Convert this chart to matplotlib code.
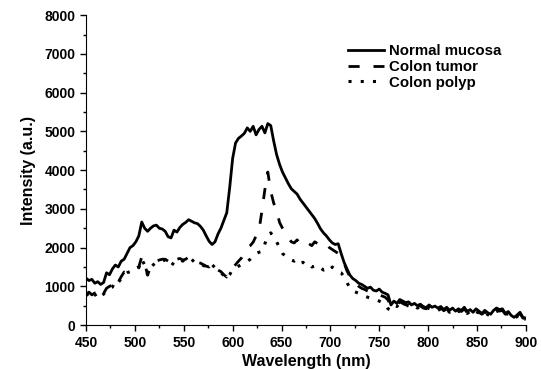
import numpy as np
import matplotlib
matplotlib.use('Agg')
import matplotlib.pyplot as plt

plt.rcParams['font.family'] = ['Liberation Sans', 'DejaVu Sans']
plt.rcParams['font.weight'] = 'bold'

# wavelength grid, 3 nm steps
wavelength = np.arange(450, 901, 3)

normal_mucosa = [
    1210, 1150, 1180, 1080, 1120, 1050, 1100, 1350, 1300, 1450,   # 450-477
    1550, 1500, 1650, 1700, 1850, 2000, 2050, 2150, 2300, 2660,   # 480-507
    2500, 2420, 2500, 2560, 2580, 2500, 2480, 2420, 2280, 2250,   # 510-537
    2450, 2400, 2520, 2600, 2650, 2720, 2680, 2640, 2620, 2550,   # 540-567
    2450, 2300, 2160, 2080, 2150, 2350, 2500, 2700, 2900, 3550,   # 570-597
    4300, 4700, 4820, 4880, 4950, 5090, 5000, 5130, 4910, 5050,   # 600-627
    5130, 4960, 5200, 5150, 4750, 4400, 4150, 3950, 3800, 3650,   # 630-657
    3520, 3450, 3380, 3250, 3150, 3050, 2950, 2850, 2750, 2620,   # 660-687
    2480, 2380, 2300, 2200, 2120, 2080, 2100, 1850, 1620, 1450,   # 690-717
    1290, 1200, 1150, 1080, 1050, 1000, 950, 980, 900, 880,       # 720-747
    930, 850, 820, 780, 520, 620, 560, 660, 620, 580,             # 750-777
    600, 520, 560, 500, 540, 480, 450, 520, 460, 490,             # 780-807
    440, 480, 400, 460, 380, 440, 360, 420, 380, 460,             # 810-837
    350, 400, 330, 420, 360, 300, 380, 320, 280, 380,             # 840-867
    440, 400, 420, 300, 350, 250, 200, 260, 330, 200,             # 870-897
    180,
]

colon_tumor = [
    800, 850, 780, 830, 720, 700, 820, 950, 1000, 1030,
    1200, 1110, 1250, 1370, 1350, 1400, 1450, 1480, 1500, 1760,
    1600, 1290, 1500, 1550, 1650, 1680, 1700, 1700, 1650, 1550,
    1650, 1700, 1720, 1680, 1700, 1760, 1720, 1650, 1620, 1600,
    1560, 1520, 1500, 1600, 1500, 1420, 1380, 1300, 1240, 1380,
    1470, 1560, 1650, 1730, 1850, 1990, 2050, 2140, 2300, 2450,
    2950, 3500, 3950, 3450, 3150, 2950, 2650, 2500, 2380, 2250,
    2150, 2120, 2200, 2100, 2150, 2080, 2100, 2050, 2150, 2100,
    2080, 2050, 2100, 2000, 1950, 1900, 1850, 1750, 1600, 1400,
    1250, 1150, 1080, 1000, 950, 920, 880, 850, 820, 800,
    780, 750, 720, 650, 480, 550, 520, 600, 560, 520,
    560, 480, 520, 470, 500, 440, 420, 480, 430, 460,
    400, 450, 370, 420, 350, 410, 330, 390, 350, 420,
    320, 370, 300, 380, 330, 280, 340, 290, 250, 340,
    400, 360, 380, 280, 320, 230, 180, 240, 300, 180,
    160,
]

colon_polyp = [
    760, 820, 720, 800, 680, 740, 800, 900, 950, 980,
    1150, 1100, 1200, 1300, 1350, 1380, 1420, 1450, 1480, 1700,
    1550, 1300, 1480, 1560, 1620, 1650, 1660, 1680, 1620, 1520,
    1620, 1680, 1700, 1650, 1720, 1740, 1700, 1620, 1600, 1580,
    1540, 1500, 1480, 1560, 1480, 1400, 1350, 1280, 1200, 1300,
    1450, 1480, 1520, 1560, 1600, 1640, 1700, 1780, 1850, 1880,
    1900, 2100, 2300, 2380, 2280, 2150, 2000, 1850, 1780, 1740,
    1680, 1650, 1700, 1600, 1620, 1550, 1580, 1500, 1520, 1450,
    1480, 1420, 1450, 1400, 1500, 1420, 1380, 1350, 1250, 1100,
    950, 880, 850, 820, 780, 750, 720, 700, 680, 650,
    620, 580, 540, 420, 380, 500, 480, 550, 520, 480,
    520, 450, 490, 440, 470, 420, 400, 450, 410, 430,
    380, 420, 350, 400, 330, 380, 310, 360, 330, 390,
    300, 350, 280, 350, 310, 260, 320, 270, 230, 320,
    370, 340, 350, 260, 300, 210, 170, 220, 280, 170,
    150,
]

fig = plt.figure(figsize=(5.41, 3.69), dpi=100)
ax = fig.add_axes([0.159, 0.119, 0.813, 0.840])

ax.plot(wavelength, normal_mucosa, color='black', lw=2.0, label='Normal mucosa')
ax.plot(wavelength, colon_tumor, color='black', lw=2.0, linestyle=(0, (4, 5)), label='Colon tumor')
ax.plot(wavelength, colon_polyp, color='black', lw=2.2, linestyle=(0, (1, 3)), label='Colon polyp')

ax.set_xlim(450, 900)
ax.set_ylim(0, 8000)
ax.set_xticks(np.arange(450, 901, 50))
ax.set_xticks(np.arange(450, 901, 25), minor=True)
ax.set_yticks(np.arange(0, 8001, 1000))
ax.set_yticks(np.arange(0, 8001, 500), minor=True)

ax.spines['top'].set_visible(False)
ax.spines['right'].set_visible(False)
ax.tick_params(which='major', direction='out', length=4, width=1, labelsize=10)
ax.tick_params(which='minor', direction='out', length=2.5, width=1)

ax.set_xlabel('Wavelength (nm)', fontsize=11.5, fontweight='bold', labelpad=3)
ax.set_ylabel('Intensity (a.u.)', fontsize=11.5, fontweight='bold', labelpad=6)

ax.legend(loc='upper left', bbox_to_anchor=(0.565, 0.95), frameon=False,
          handlelength=2.4, labelspacing=0.12, handletextpad=0.3,
          prop={'weight': 'bold', 'size': 10.8})

fig.savefig('out.png', dpi=100)
